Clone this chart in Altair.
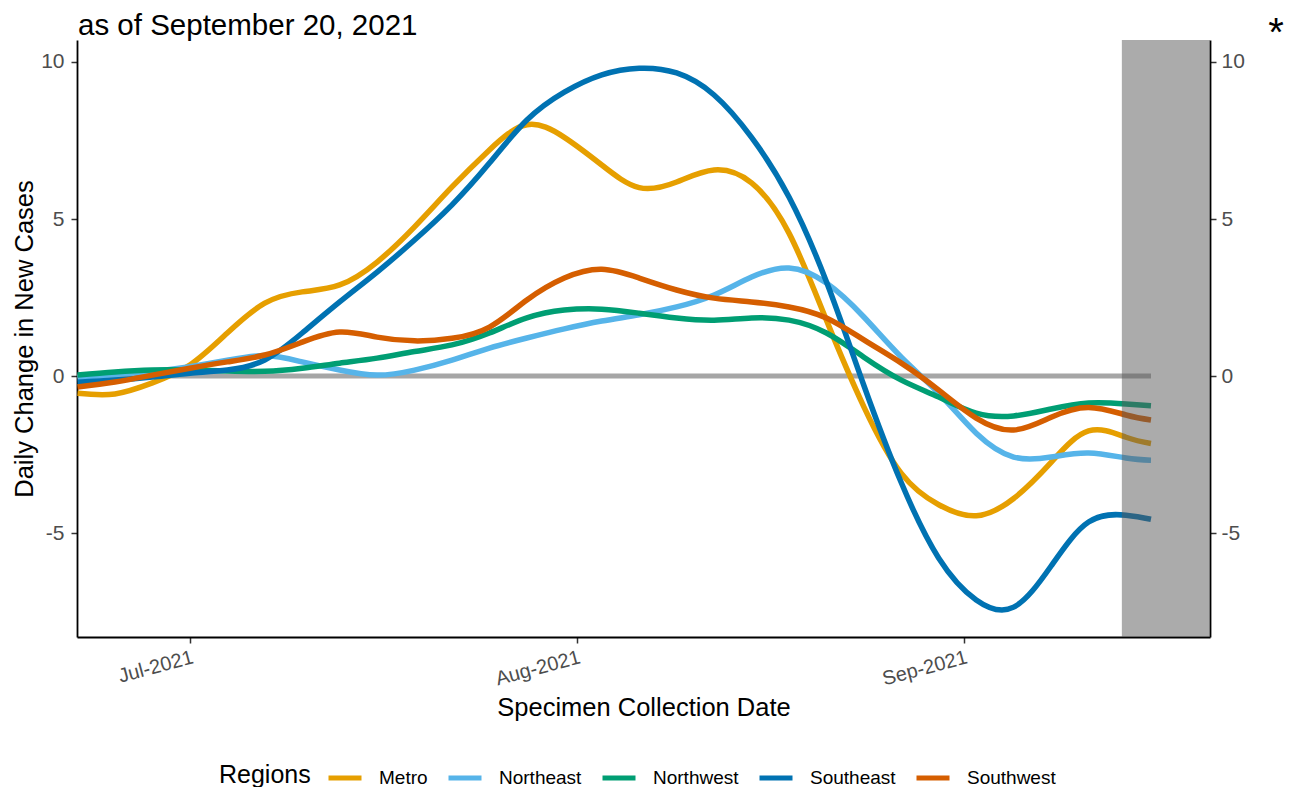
import altair as alt
import pandas as pd

# ---- data ----
dates = ["2021-06-22", "2021-06-25", "2021-06-28", "2021-07-01", "2021-07-04",
         "2021-07-07", "2021-07-10", "2021-07-13", "2021-07-16", "2021-07-19",
         "2021-07-22", "2021-07-25", "2021-07-28", "2021-07-31", "2021-08-03",
         "2021-08-06", "2021-08-09", "2021-08-12", "2021-08-15", "2021-08-18",
         "2021-08-21", "2021-08-24", "2021-08-27", "2021-08-30", "2021-09-02",
         "2021-09-05", "2021-09-08", "2021-09-11", "2021-09-14", "2021-09-16"]

metro = [-0.55, -0.57, -0.22, 0.35, 1.37, 2.32, 2.68, 2.90, 3.63, 4.75,
         6.02, 7.20, 8.00, 7.60, 6.72, 6.00, 6.18, 6.56, 6.15, 4.55,
         1.78, -0.98, -3.10, -4.10, -4.45, -3.90, -2.75, -1.75, -1.95, -2.15]
northeast = [-0.05, 0.05, 0.15, 0.30, 0.50, 0.65, 0.45, 0.19, 0.03, 0.19,
             0.51, 0.89, 1.21, 1.50, 1.75, 1.95, 2.20, 2.58, 3.15, 3.44,
             2.96, 1.88, 0.60, -0.55, -1.82, -2.58, -2.58, -2.45, -2.61, -2.68]
northwest = [0.03, 0.13, 0.19, 0.19, 0.16, 0.15, 0.25, 0.41, 0.57, 0.78,
             0.99, 1.37, 1.85, 2.10, 2.13, 2.00, 1.85, 1.78, 1.85, 1.78,
             1.37, 0.60, -0.13, -0.67, -1.18, -1.27, -1.05, -0.86, -0.89, -0.95]
southeast = [-0.20, -0.13, -0.03, 0.09, 0.19, 0.51, 1.37, 2.36, 3.31, 4.33,
             5.45, 6.78, 8.15, 9.04, 9.59, 9.80, 9.65, 8.95, 7.60, 5.70,
             3.00, -0.30, -3.40, -5.80, -7.13, -7.36, -6.05, -4.65, -4.43, -4.56]
southwest = [-0.35, -0.19, 0.03, 0.25, 0.45, 0.67, 1.08, 1.40, 1.24, 1.12,
             1.20, 1.56, 2.42, 3.12, 3.40, 3.12, 2.74, 2.48, 2.36, 2.20,
             1.85, 1.15, 0.41, -0.45, -1.34, -1.72, -1.31, -1.00, -1.24, -1.40]

regions = ["Metro", "Northeast", "Northwest", "Southeast", "Southwest"]
colors = ["#E69F00", "#56B4E9", "#009E73", "#0072B2", "#D55E00"]

y_ticks = [-5, 0, 5, 10]
x_ticks = ["2021-07-01", "2021-08-01", "2021-09-01"]

title_text = "as of September 20, 2021"
y_title = "Daily Change in New Cases"
x_title = "Specimen Collection Date"
legend_title = "Regions"

zero_start, zero_end = "2021-06-22", "2021-09-16"
shade_start, shade_end = "2021-09-13T16:00:00", "2021-09-20T17:30:00"
x_domain = ["2021-06-21T23:00:00", "2021-09-20T17:30:00"]
y_domain = [-8.31, 10.70]

# ---- tables ----
rows = []
for reg, vals in zip(regions, [metro, northeast, northwest, southeast, southwest]):
    for d, v in zip(dates, vals):
        rows.append({"date": pd.Timestamp(d), "region": reg, "value": v})
df = pd.DataFrame(rows)

zero_df = pd.DataFrame({"start": [pd.Timestamp(zero_start)],
                        "end": [pd.Timestamp(zero_end)], "value": [0]})
shade_df = pd.DataFrame({"start": [pd.Timestamp(shade_start)],
                         "end": [pd.Timestamp(shade_end)]})


def dt(s):
    t = pd.Timestamp(s)
    return alt.DateTime(year=t.year, month=t.month, date=t.day,
                        hours=t.hour, minutes=t.minute)


W, H = 1133, 597
FONT = "Liberation Sans, Arial, sans-serif"

xscale = alt.Scale(domain=[dt(x_domain[0]), dt(x_domain[1])])
yscale = alt.Scale(domain=y_domain, nice=False, zero=False)

xaxis = alt.Axis(values=[dt(v) for v in x_ticks], format="%b-%Y",
                 labelAngle=-15, labelAlign="right", labelBaseline="top",
                 labelFontSize=20, labelColor="#4D4D4D", labelPadding=4,
                 labelFont=FONT, tickSize=6, tickColor="#333333", tickWidth=1.5,
                 domainColor="black", domainWidth=1.8, grid=False,
                 labelOverlap=False, labelFlush=False,
                 title=x_title, titleFont=FONT, titleFontSize=25.5,
                 titleFontWeight="normal", titleColor="black",
                 titleX=W / 2, titleY=78, titleBaseline="alphabetic",
                 titleAlign="center")


def yaxis(orient, title):
    kw = dict(orient=orient, values=y_ticks, labelExpr="'' + datum.value",
              labelFontSize=21, labelColor="#4D4D4D",
              labelPadding=7 if orient == "left" else 5,
              labelFont=FONT, tickSize=6, tickColor="#333333", tickWidth=1.5,
              domainColor="black", domainWidth=1.8, grid=False,
              labelOverlap=False, labelFlush=False)
    if title:
        kw.update(title=title, titleFont=FONT, titleFontSize=25.5,
                  titleFontWeight="normal", titleColor="black",
                  titleX=-45, titleY=H / 2, titleAngle=270,
                  titleBaseline="alphabetic", titleAlign="center")
    else:
        kw.update(title="")
    return alt.Axis(**kw)


legend = alt.Legend(orient="none", legendX=249, legendY=719,
                    direction="horizontal", title=None,
                    labelFont=FONT, labelFontSize=19, labelColor="black",
                    symbolType="stroke", symbolSize=1089, symbolStrokeWidth=5,
                    labelOffset=15, columnPadding=10, padding=0)

zero = alt.Chart(zero_df).mark_rule(strokeWidth=5, color="#A6A6A6",
                                    strokeCap="butt").encode(
    x=alt.X("start:T", scale=xscale, axis=xaxis),
    x2="end:T",
    y=alt.Y("value:Q", scale=yscale, axis=yaxis("right", None)),
)

lines = alt.Chart(df).mark_line(strokeWidth=5.5, interpolate="natural",
                                strokeCap="butt").encode(
    x=alt.X("date:T", scale=xscale, axis=xaxis),
    y=alt.Y("value:Q", scale=yscale, axis=yaxis("left", y_title)),
    color=alt.Color("region:N", scale=alt.Scale(domain=regions, range=colors),
                    legend=legend),
)

shade = alt.Chart(shade_df).mark_rect(color="#575757", opacity=0.5).encode(
    x=alt.X("start:T", scale=xscale, axis=xaxis),
    x2="end:T",
    y=alt.value(0),
    y2=alt.value(H),
)

title_layer = alt.Chart(pd.DataFrame({"t": [title_text]})).mark_text(
    align="left", baseline="alphabetic", fontSize=29.5, font=FONT, color="black"
).encode(x=alt.value(1), y=alt.value(-5), text="t:N")

star_layer = alt.Chart(pd.DataFrame({"t": ["*"]})).mark_text(
    align="center", baseline="alphabetic", fontSize=40, font=FONT, color="black"
).encode(x=alt.value(1199), y=alt.value(6), text="t:N")

regions_layer = alt.Chart(pd.DataFrame({"t": [legend_title]})).mark_text(
    align="left", baseline="alphabetic", fontSize=25, font=FONT, color="black"
).encode(x=alt.value(142), y=alt.value(743), text="t:N")

chart = alt.layer(zero, lines, shade, title_layer, star_layer,
                  regions_layer).resolve_axis(
    y="independent"
).properties(
    width=W, height=H,
    autosize=alt.AutoSizeParams(type="none"),
    padding={"left": 69, "top": 32, "right": 77, "bottom": 150},
).configure(font=FONT).configure_view(stroke=None)

chart.save("out.html", embed_options={"renderer": "svg", "actions": False})
